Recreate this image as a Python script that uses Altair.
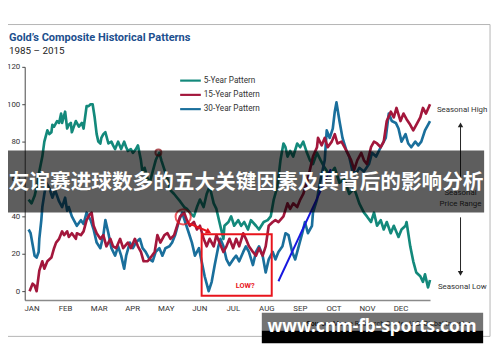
import json
import altair as alt
import pandas as pd

# ---------------- data ----------------
months = ["JAN", "FEB", "MAR", "APR", "MAY", "JUN", "JUL", "AUG", "SEP", "OCT", "NOV", "DEC"]
y_ticks = [0, 20, 40, 60, 80, 100, 120]
series_names = ["5-Year Pattern", "15-Year Pattern", "30-Year Pattern"]
series_colors = ["#13897b", "#a3173c", "#1a6f9c"]

# x = position in months (0 = JAN tick), y = pattern value
teal_x = [-0.09, 0, 0.09, 0.18, 0.23, 0.32, 0.38, 0.47, 0.53, 0.59, 0.62, 0.67, 0.76, 0.82, 0.88, 0.91, 1.00, 1.06,
          1.11, 1.17, 1.20, 1.26, 1.32, 1.41, 1.50, 1.55, 1.64, 1.70, 1.76, 1.82, 1.88, 1.94, 1.99, 2.05, 2.08, 2.14,
          2.20, 2.29, 2.38, 2.43, 2.49, 2.58, 2.67, 2.76, 2.82, 2.87, 2.96, 3.02, 3.11, 3.17, 3.26, 3.31, 3.37, 3.46,
          3.52, 3.61, 3.70, 3.75, 3.81, 3.87, 3.96, 4.05, 4.14, 4.25, 4.34, 4.43, 4.55, 4.63, 4.72, 4.84, 4.93, 5.02,
          5.13, 5.22, 5.31, 5.43, 5.51, 5.60, 5.72, 5.75, 5.87, 5.95, 6.04, 6.16, 6.25, 6.34, 6.45, 6.54, 6.69, 6.78,
          6.92, 7.04, 7.13, 7.22, 7.33, 7.42, 7.51, 7.57, 7.63, 7.71, 7.80, 7.92, 8.01, 8.10, 8.21, 8.30, 8.39, 8.51,
          8.62, 8.74, 8.89, 9.04, 9.18, 9.33, 9.47, 9.62, 9.77, 9.91, 10.00, 10.12, 10.21, 10.30, 10.41, 10.50, 10.59,
          10.71, 10.80, 10.94, 11.03, 11.15, 11.18, 11.29, 11.38, 11.47, 11.59, 11.67, 11.73, 11.82, 11.88]
teal_y = [49, 47, 51, 58, 64, 72, 80, 86, 84, 85, 89, 88, 91, 90, 95, 90, 96, 87,
          89, 90, 85, 88, 91, 88, 90, 87, 99, 99, 100, 100, 93, 84, 80, 79, 82, 84,
          85, 79, 80, 78, 76, 80, 76, 80, 77, 75, 76, 74, 76, 78, 70, 63, 66, 60,
          58, 64, 70, 72, 74, 70, 65, 60, 54, 52, 50, 48, 45, 44, 42, 40, 45, 49,
          45, 52, 56, 47, 44, 37, 28, 35, 37, 40, 35, 38, 35, 37, 33, 38, 35, 33,
          37, 38, 40, 49, 56, 70, 79, 77, 72, 75, 72, 79, 77, 80, 74, 70, 68, 74,
          70, 66, 62, 66, 58, 60, 52, 55, 47, 42, 40, 37, 42, 35, 38, 33, 37,
          31, 35, 29, 33, 35, 37, 24, 16, 10, 8, 5, 9, 2, 6]

red_x = [-0.06, 0.03, 0.09, 0.15, 0.23, 0.32, 0.38, 0.47, 0.59, 0.67, 0.73, 0.82, 0.91, 0.97, 1.06, 1.11, 1.20, 1.32,
         1.35, 1.47, 1.55, 1.64, 1.73, 1.79, 1.85, 1.94, 2.05, 2.14, 2.23, 2.35, 2.43, 2.52, 2.64, 2.73, 2.87, 2.96,
         3.08, 3.17, 3.26, 3.34, 3.46, 3.55, 3.67, 3.75, 3.84, 3.96, 4.05, 4.14, 4.25, 4.34, 4.43, 4.55, 4.63, 4.72,
         4.84, 4.93, 5.02, 5.13, 5.22, 5.31, 5.43, 5.51, 5.60, 5.72, 5.81, 5.90, 6.01, 6.10, 6.19, 6.31, 6.39, 6.48,
         6.60, 6.69, 6.78, 6.89, 6.98, 7.07, 7.19, 7.27, 7.36, 7.51, 7.63, 7.71, 7.80, 7.92, 8.01, 8.10, 8.21, 8.30,
         8.39, 8.51, 8.54, 8.65, 8.74, 8.83, 8.95, 9.04, 9.12, 9.24, 9.33, 9.42, 9.53, 9.62, 9.71, 9.83, 9.91, 10.00,
         10.12, 10.21, 10.30, 10.41, 10.50, 10.59, 10.71, 10.80, 10.88, 11.00, 11.09, 11.18, 11.29, 11.38, 11.47,
         11.59, 11.67, 11.76, 11.88]
red_y = [0, 4, 3, 0, 11, 16, 12, 16, 18, 23, 26, 28, 32, 30, 32, 29, 31, 28,
         31, 30, 32, 38, 41, 42, 35, 31, 28, 30, 24, 28, 24, 23, 28, 23, 26, 23,
         28, 24, 21, 16, 16, 18, 21, 30, 26, 30, 31, 28, 30, 35, 40, 42, 38, 35,
         37, 33, 35, 28, 24, 28, 24, 30, 26, 21, 24, 28, 23, 28, 24, 31, 28, 24,
         21, 19, 23, 19, 24, 35, 37, 38, 37, 40, 47, 44, 47, 45, 49, 52, 58, 65,
         72, 77, 82, 78, 82, 77, 80, 84, 79, 80, 77, 74, 70, 65, 70, 74, 70, 68,
         77, 80, 79, 77, 80, 91, 96, 93, 98, 91, 95, 92, 89, 86, 89,
         93, 98, 95, 100]

blue_x = [-0.09, -0.03, 0.03, 0.09, 0.15, 0.21, 0.23, 0.29, 0.32, 0.38, 0.44, 0.53, 0.62, 0.70, 0.82, 0.91, 1.00,
          1.06, 1.11, 1.20, 1.35, 1.47, 1.55, 1.64, 1.76, 1.85, 1.94, 2.05, 2.14, 2.20, 2.29, 2.38, 2.49, 2.58, 2.67,
          2.76, 2.82, 2.93, 3.02, 3.11, 3.23, 3.31, 3.40, 3.52, 3.61, 3.70, 3.81, 3.90, 3.99, 4.11, 4.19, 4.28, 4.40,
          4.49, 4.58, 4.69, 4.78, 4.87, 4.99, 5.07, 5.16, 5.28, 5.37, 5.46, 5.57, 5.63, 5.72, 5.81, 5.90, 6.01, 6.10,
          6.19, 6.31, 6.39, 6.48, 6.60, 6.69, 6.78, 6.89, 6.98, 7.07, 7.19, 7.27, 7.36, 7.48, 7.57, 7.66, 7.77, 7.86,
          7.95, 8.07, 8.15, 8.24, 8.36, 8.39, 8.51, 8.62, 8.74, 8.80, 8.89, 8.98, 9.04, 9.09, 9.18, 9.27, 9.39, 9.47,
          9.56, 9.68, 9.77, 9.91, 10.06, 10.15, 10.27, 10.41, 10.56, 10.65, 10.74, 10.86, 10.94, 11.03, 11.15, 11.23,
          11.32, 11.44, 11.53, 11.62, 11.73, 11.82, 11.88]
blue_y = [33, 31, 25, 19, 18, 21, 28, 38, 45, 52, 58, 55, 50, 54, 48, 45, 50,
          43, 45, 40, 35, 38, 36, 42, 38, 33, 26, 23, 30, 38, 31, 23, 19, 24, 19,
          12, 19, 26, 23, 26, 28, 23, 21, 17, 16, 21, 23, 19, 23, 24, 26, 30, 38,
          42, 37, 31, 26, 19, 23, 16, 8, 0, 5, 14, 24, 28, 24, 17, 14, 17, 19,
          16, 21, 24, 21, 14, 21, 24, 19, 10, 17, 21, 17, 21, 24, 31, 30, 21, 17,
          23, 31, 37, 31, 35, 42, 49, 60, 70, 86, 82, 87, 96, 101, 91, 82, 75, 72,
          65, 63, 66, 64, 68, 74, 72, 77, 82, 95, 91, 90, 87, 80, 84, 79,
          77, 80, 78, 80, 86, 89, 91]

# annotation anchors (data units)
peak_dot = {"m": [3.78], "v": [74.2]}
june_circle = {"m": [4.52], "v": [39.8]}
arrow_line = {"m": [4.69], "v": [36.3], "m2": [5.28], "v2": [31.8]}
low_box = {"m": [5.07], "m2": [7.16], "v": [30.5], "v2": [-2.4]}
low_label = {"m": [6.37], "v": [2.8], "t": ["LOW?"]}
trend_line = {"m": [7.36], "v": [5.3], "m2": [8.92], "v2": [65.3]}

title_text = "Gold\u2019s Composite Historical Patterns"
subtitle_text = "1985 \u2013 2015"
banner_text = "友谊赛进球数多的五大关键因素及其背后的影响分析"
watermark_text = "www.cnm-fb-sports.com"
source_bold = "Source:"
source_rest = "Moore Research Center, U.S. Global Investors"

# ---------------- build ----------------
FONT = "Roboto"
rows = []
for name, xs, ys in [(series_names[0], teal_x, teal_y), (series_names[1], red_x, red_y), (series_names[2], blue_x, blue_y)]:
    for a, b in zip(xs, ys):
        rows.append({"series": name, "m": a, "v": b})
df = pd.DataFrame(rows)

xscale = alt.Scale(domain=[-0.205, 11.88], nice=False, zero=False)
yscale = alt.Scale(domain=[-4.7, 120], nice=False, zero=False)
color_scale = alt.Scale(domain=series_names, range=series_colors)

xaxis = alt.Axis(values=list(range(12)), labelExpr=json.dumps(months) + "[datum.value]", title=None, grid=False,
                 ticks=False, domainColor="#8a8a8a", domainWidth=1.5, labelFontSize=8, labelPadding=5,
                 labelColor="#333333", labelFont=FONT)
yaxis = alt.Axis(values=y_ticks, title=None, grid=False, tickSize=3, tickColor="#444444", domainColor="#444444",
                 labelFontSize=8, labelPadding=2, labelColor="#333333", labelFont=FONT)

one = pd.DataFrame({"a": [0]})

def px_rect(x, x2, y, y2, **kw):
    return alt.Chart(one).mark_rect(**kw).encode(x=alt.value(x), x2=alt.value(x2), y=alt.value(y), y2=alt.value(y2))

def px_text(text, x, y, **kw):
    return alt.Chart(one).mark_text(text=text, **kw).encode(x=alt.value(x), y=alt.value(y))

layers = []
layers.append(px_rect(-24, 473, -43, 274, fillOpacity=0, stroke="#b4b4b4", strokeWidth=1))

for name in [series_names[0], series_names[2], series_names[1]]:
    layers.append(
        alt.Chart(df[df.series == name]).mark_line(strokeWidth=2.7, strokeJoin="round").encode(
            x=alt.X("m:Q", scale=xscale, axis=xaxis),
            y=alt.Y("v:Q", scale=yscale, axis=yaxis),
            color=alt.Color("series:N", scale=color_scale, legend=None),
        )
    )

X = lambda f: alt.X(f, scale=xscale, axis=xaxis)
Y = lambda f: alt.Y(f, scale=yscale, axis=yaxis)

layers.append(alt.Chart(pd.DataFrame(peak_dot)).mark_point(filled=False, color="#8e0b12", size=36, strokeWidth=2)
              .encode(x=X("m:Q"), y=Y("v:Q")))
layers.append(alt.Chart(pd.DataFrame(june_circle)).mark_point(filled=False, color="#e8141c", size=240, strokeWidth=2)
              .encode(x=X("m:Q"), y=Y("v:Q")))
layers.append(alt.Chart(pd.DataFrame(arrow_line)).mark_rule(color="#e8141c", strokeWidth=2)
              .encode(x=X("m:Q"), y=Y("v:Q"), x2="m2:Q", y2="v2:Q"))
layers.append(alt.Chart(pd.DataFrame(arrow_line)).mark_point(shape="triangle-right", filled=True, color="#e8141c",
                                                             size=40, angle=28, opacity=1)
              .encode(x=X("m2:Q"), y=Y("v2:Q")))
layers.append(alt.Chart(pd.DataFrame(low_box)).mark_rect(fillOpacity=0, stroke="#e8141c", strokeWidth=2)
              .encode(x=X("m:Q"), x2="m2:Q", y=Y("v:Q"), y2="v2:Q"))
layers.append(alt.Chart(pd.DataFrame(low_label)).mark_text(color="#e8141c", fontSize=7.5, fontWeight="bold", font=FONT)
              .encode(x=X("m:Q"), y=Y("v:Q"), text="t:N"))
layers.append(alt.Chart(pd.DataFrame(trend_line)).mark_rule(color="#1717e0", strokeWidth=2)
              .encode(x=X("m:Q"), y=Y("v:Q"), x2="m2:Q", y2="v2:Q"))

# legend
for i, (name, col) in enumerate(zip(series_names, series_colors)):
    yy = 14 + i * 14.5
    layers.append(alt.Chart(one).mark_rule(color=col, strokeWidth=2.2)
                  .encode(x=alt.value(158), x2=alt.value(179), y=alt.value(yy)))
    layers.append(px_text(name, 182, yy, align="left", baseline="middle", fontSize=8.3, color="#333333", font=FONT))

# titles
layers.append(px_text(title_text, -16, -26, align="left", baseline="alphabetic", fontSize=11.2, fontWeight="bold",
                      color="#1d4f8e", font=FONT))
layers.append(px_text(subtitle_text, -16, -13, align="left", baseline="alphabetic", fontSize=10, color="#222222",
                      font=FONT))

# seasonal range annotation
layers.append(px_text("Seasonal High", 419, 44, align="left", baseline="middle", fontSize=8, color="#333333", font=FONT))
layers.append(alt.Chart(one).mark_rule(color="#222222", strokeWidth=1).encode(x=alt.value(443), y=alt.value(59), y2=alt.value(113)))
layers.append(alt.Chart(one).mark_point(shape="triangle-up", filled=True, color="#222222", size=30, opacity=1)
              .encode(x=alt.value(443), y=alt.value(59)))
layers.append(px_text("Seasonal", 443, 128, align="center", baseline="middle", fontSize=8, color="#333333", font=FONT))
layers.append(px_text("Price Range", 443, 139, align="center", baseline="middle", fontSize=8, color="#333333", font=FONT))
layers.append(alt.Chart(one).mark_rule(color="#222222", strokeWidth=1).encode(x=alt.value(443), y=alt.value(153), y2=alt.value(210)))
layers.append(alt.Chart(one).mark_point(shape="triangle-down", filled=True, color="#222222", size=30, opacity=1)
              .encode(x=alt.value(443), y=alt.value(210)))
layers.append(px_text("Seasonal Low", 420, 224, align="left", baseline="middle", fontSize=8, color="#333333", font=FONT))

# source
layers.append(px_text(source_bold, 311, 263, align="right", baseline="alphabetic", fontSize=7.2, fontWeight="bold",
                      color="#222222", font=FONT))
layers.append(px_text(source_rest, 313, 263, align="left", baseline="alphabetic", fontSize=7.2, color="#333333",
                      font=FONT))

# overlays
layers.append(px_rect(-17, 467, 85, 148, fill="#000000", fillOpacity=0.63))
layers.append(px_text(banner_text, 225, 118, align="center", baseline="middle", fontSize=21, fontWeight="bold",
                      color="#ffffff", font="Noto Sans CJK SC"))
layers.append(px_rect(241, 466, 250, 268, fill="#000000", fillOpacity=0.55))
layers.append(px_rect(241, 466, 268, 281, fill="#000000", fillOpacity=1))
layers.append(px_text(watermark_text, 353, 270, align="center", baseline="alphabetic", fontSize=17.5, fontWeight="bold",
                      color="#ffffff", font="Noto Sans"))

chart = alt.layer(*layers).properties(
    width=412, height=237,
    padding={"left": 17, "top": 57, "right": 63, "bottom": 46},
    autosize=alt.AutoSizeParams(type="none"),
).configure(background="white").configure_view(strokeOpacity=0)

chart.save("out.html", embed_options={"renderer": "svg", "actions": False})
